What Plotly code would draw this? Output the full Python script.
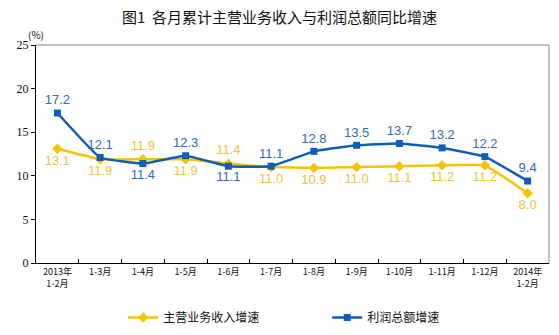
import plotly.graph_objects as go

categories = ["2013年<br>1-2月", "1-3月", "1-4月", "1-5月", "1-6月", "1-7月",
              "1-8月", "1-9月", "1-10月", "1-11月", "1-12月", "2014年<br>1-2月"]
revenue = [13.1, 11.9, 11.9, 11.9, 11.4, 11.0, 10.9, 11.0, 11.1, 11.2, 11.2, 8.0]
profit = [17.2, 12.1, 11.4, 12.3, 11.1, 11.1, 12.8, 13.5, 13.7, 13.2, 12.2, 9.4]
rev_pos = ["bottom center", "bottom center", "top center", "bottom center", "top center",
           "bottom center", "bottom center", "bottom center", "bottom center",
           "bottom center", "bottom center", "bottom center"]
pro_pos = ["top center", "top center", "bottom center", "top center", "bottom center",
           "top center", "top center", "top center", "top center", "top center",
           "top center", "top center"]

YEL = "#F5C400"
YEL_T = "#F2C23A"
BLU = "#0F5DB5"
BLU_T = "#2E6DB8"

fig = go.Figure()
fig.add_trace(go.Scatter(
    x=categories, y=revenue, name="主营业务收入增速", mode="lines+markers+text",
    line=dict(color=YEL, width=2.5, shape="spline", smoothing=0.3),
    marker=dict(symbol="diamond", size=8, color=YEL),
    text=[f"{v:.1f}" for v in revenue], textposition=rev_pos,
    textfont=dict(family="Liberation Sans, Arial", size=13, color=YEL_T),
))
fig.add_trace(go.Scatter(
    x=categories, y=profit, name="利润总额增速", mode="lines+markers+text",
    line=dict(color=BLU, width=2.5, shape="spline", smoothing=0.3),
    marker=dict(symbol="square", size=7, color=BLU),
    text=[f"{v:.1f}" for v in profit], textposition=pro_pos,
    textfont=dict(family="Liberation Sans, Arial", size=13, color=BLU_T),
))

fig.update_layout(
    width=559, height=335,
    margin=dict(l=36, r=10, t=45, b=72, autoexpand=False),
    paper_bgcolor="white", plot_bgcolor="white",
    title=dict(text="图1  各月累计主营业务收入与利润总额同比增速",
               x=0.5, xanchor="center", y=0.948, yanchor="middle",
               font=dict(family="Noto Sans CJK SC", size=15, color="#111", weight="normal")),
    showlegend=True,
    legend=dict(orientation="h", x=0.17, xanchor="left", y=-0.25, yanchor="middle",
                entrywidth=159, entrywidthmode="pixels",
                font=dict(family="Noto Sans CJK SC", size=12, color="#111")),
    xaxis=dict(type="category", showgrid=False, showline=True, linecolor="black",
               linewidth=1, ticks="inside", ticklen=4, tickcolor="black",
               tickson="boundaries", range=[-0.5, 11.5],
               tickfont=dict(family="Noto Sans CJK SC", size=9, color="#111")),
    yaxis=dict(range=[0, 25], dtick=5, showgrid=False, zeroline=False, showline=True,
               linecolor="black", linewidth=1, ticks="outside", ticklen=4,
               tickcolor="black",
               tickfont=dict(family="Liberation Serif", size=12, color="#111")),
    annotations=[dict(text="(%)", xref="paper", yref="paper", x=0.0, y=1.05,
                      xanchor="center", yanchor="middle", showarrow=False,
                      font=dict(family="Noto Sans CJK SC", size=10, color="#111"))],
    shapes=[
        dict(type="line", xref="paper", yref="paper", x0=0, x1=1, y0=1, y1=1,
             line=dict(color="#888", width=1)),
        dict(type="line", xref="paper", yref="paper", x0=1, x1=1, y0=0, y1=1,
             line=dict(color="#888", width=1)),
    ],
)

fig.write_html("out.html")
